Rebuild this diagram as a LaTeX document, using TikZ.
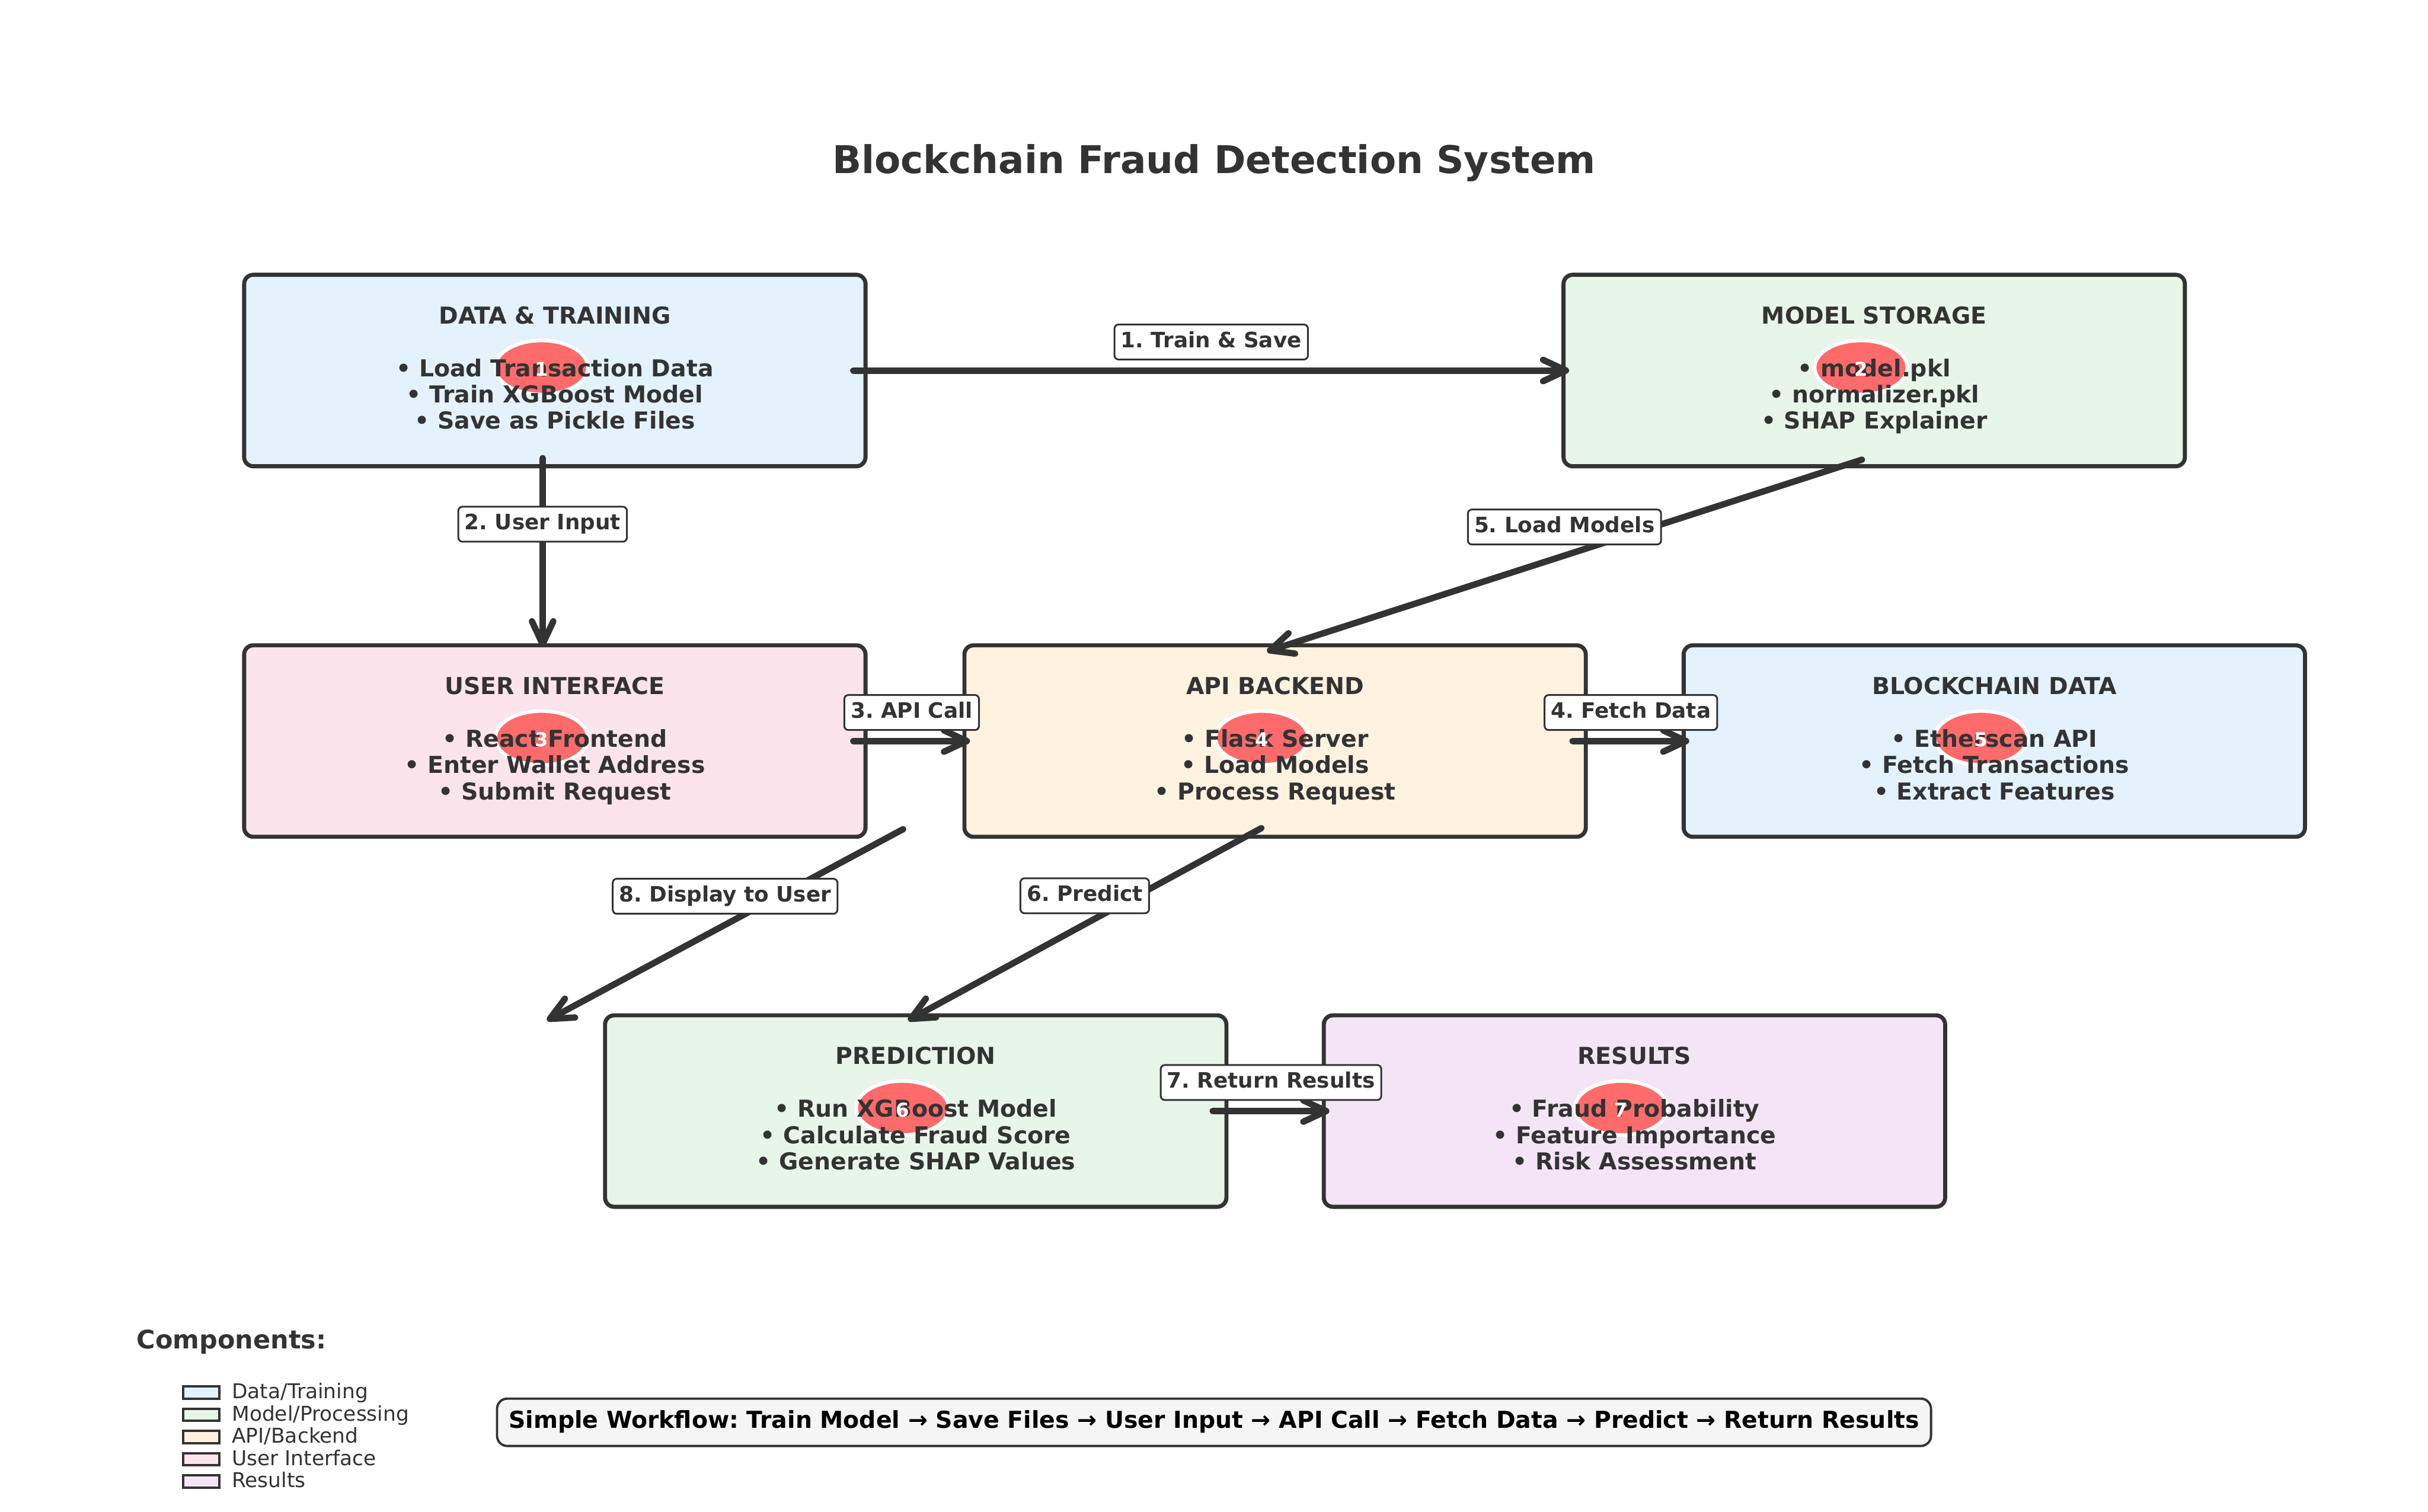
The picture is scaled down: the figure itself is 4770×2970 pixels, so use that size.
\documentclass[tikz,border=0pt]{standalone}
\usepackage{fontspec}
\setmainfont{DejaVu Sans}
\frenchspacing
\usetikzlibrary{arrows.meta,positioning,calc}
\definecolor{ink}{HTML}{333333}
\definecolor{cdata}{HTML}{E3F2FD}
\definecolor{cmodel}{HTML}{E8F5E9}
\definecolor{capi}{HTML}{FFF3E0}
\definecolor{cui}{HTML}{FCE4EC}
\definecolor{cres}{HTML}{F3E5F5}
\definecolor{badgered}{HTML}{FF6B6B}
\definecolor{flowgray}{HTML}{F5F5F5}

\begin{document}
\begin{tikzpicture}[
  x=0.01cm, y=-0.01cm,
  comp/.style={
    rectangle, rounded corners=0.18cm, draw=ink, line width=0.08cm,
    minimum width=12.2cm, minimum height=3.76cm, inner sep=0pt, outer sep=0pt
  },
  maintitle/.style={anchor=base, text=ink, font=\fontsize{21.34pt}{25pt}\selectfont\bfseries},
  comptitle/.style={anchor=base, text=ink, font=\fontsize{13.04pt}{15pt}\selectfont\bfseries},
  bulletline/.style={anchor=base, text=ink, font=\fontsize{13.04pt}{15pt}\selectfont\bfseries},
  badge/.style={fill=badgered, draw=white, line width=0.07cm},
  badgenum/.style={anchor=base, text=white, font=\fontsize{10.67pt}{12pt}\selectfont\bfseries},
  lbl/.style={
    rectangle, rounded corners=0.08cm, draw=ink, fill=white, line width=0.035cm,
    text=ink, font=\fontsize{11.86pt}{14pt}\selectfont\bfseries,
    inner xsep=0.125cm, inner ysep=0.135cm, text height=0.317cm, text depth=0.1cm,
    yshift=0.56cm
  },
  arr/.style={-{Straight Barb[length=0.45cm,width=0.42cm,round]}, line width=0.125cm, ink, line cap=round},
  swatch/.style={rectangle, draw=ink, line width=0.045cm, minimum width=0.71cm, minimum height=0.24cm, inner sep=0pt},
  legtitle/.style={anchor=base west, inner sep=0pt, text=ink, font=\fontsize{14.23pt}{17pt}\selectfont\bfseries},
  legtext/.style={anchor=base west, inner sep=0pt, text=ink, font=\fontsize{11.4pt}{13pt}\selectfont},
  flowbox/.style={
    rectangle, rounded corners=0.2cm, draw=ink, fill=flowgray, line width=0.045cm,
    text=black, font=\fontsize{13.04pt}{15pt}\selectfont\bfseries,
    inner xsep=0.23cm, inner ysep=0.235cm, text height=0.35cm, text depth=0.11cm
  }
]
  \fill[white] (0,0) rectangle (4770,2970);
  \useasboundingbox (0,0) rectangle (4770,2970);

  \node[maintitle] (ttl) at (2385,341) {Blockchain Fraud Detection System};

  % components
  \foreach \nm/\cx/\cy/\col/\num/\ttl/\items in {
    dt/1090/728/cdata/1/{DATA \& TRAINING}/{Load Transaction Data,Train XGBoost Model,Save as Pickle Files},
    ms/3682/728/cmodel/2/{MODEL STORAGE}/{model.pkl,normalizer.pkl,SHAP Explainer},
    ui/1090/1456/cui/3/{USER INTERFACE}/{React Frontend,Enter Wallet Address,Submit Request},
    api/2505/1456/capi/4/{API BACKEND}/{Flask Server,Load Models,Process Request},
    bc/3918/1456/cdata/5/{BLOCKCHAIN DATA}/{Etherscan API,Fetch Transactions,Extract Features},
    pred/1799/2183/cmodel/6/{PREDICTION}/{Run XGBoost Model,Calculate Fraud Score,Generate SHAP Values},
    res/3211/2183/cres/7/{RESULTS}/{Fraud Probability,Feature Importance,Risk Assessment}} {
    \node[comp, fill=\col] (\nm) at (\cx,\cy) {};
    \draw[badge] ($(\nm.center)+(-26,-6)$) ellipse [x radius=0.91cm, y radius=0.53cm];
    \node[comptitle] at ($(\nm.center)+(0,-92)$) {\ttl};
    \foreach \l [count=\i] in \items
      \node[bulletline] at ($(\nm.center)+(0,{12+51.5*(\i-1)})$) {• \l};
    \node[badgenum] at ($(\nm.center)+(-26,11)$) {\num};
  }

  % arrow ends
  \coordinate (dt-r)   at ($(dt.east)+(-24,0)$);
  \coordinate (ms-l)   at ($(ms.west)+(11,0)$);
  \coordinate (dt-b)   at ($(dt.south)+(-24,-16)$);
  \coordinate (ui-t)   at ($(ui.north)+(-24,4)$);
  \coordinate (ui-r)   at ($(ui.east)+(-24,0)$);
  \coordinate (api-l)  at ($(api.west)+(11,0)$);
  \coordinate (api-r)  at ($(api.east)+(-26,0)$);
  \coordinate (bc-l)   at ($(bc.west)+(11,0)$);
  \coordinate (ms-b)   at ($(ms.south)+(-24,-13)$);
  \coordinate (api-t)  at ($(api.north)+(-16,12)$);
  \coordinate (api-b)  at ($(api.south)+(-27,-17)$);
  \coordinate (pred-t) at ($(pred.north)+(-15,10)$);
  \coordinate (pred-r) at ($(pred.east)+(-27,0)$);
  \coordinate (res-l)  at ($(res.west)+(11,0)$);
  \coordinate (ui-br)  at ($(ui.south east)+(74,-15)$);
  \coordinate (disp)   at ($(pred.north west)+(-114,10)$);

  \foreach \a/\b/\lab in {
    dt-r/ms-l/{1. Train \& Save},
    dt-b/ui-t/{2. User Input},
    ui-r/api-l/{3. API Call},
    api-r/bc-l/{4. Fetch Data},
    ms-b/api-t/{5. Load Models},
    api-b/pred-t/{6. Predict},
    pred-r/res-l/{7. Return Results},
    ui-br/disp/{8. Display to User}} {
    \draw[arr] (\a) -- node[lbl] {\lab} (\b);
  }

  % legend
  \node[legtitle] (leg) at (268,2650) {Components:};
  \foreach \col/\name [count=\i] in {
    cdata/{Data/Training}, cmodel/{Model/Processing}, capi/{API/Backend},
    cui/{User Interface}, cres/{Results}} {
    \node[swatch, fill=\col] (sw\i) at (395.5,{2736+43.7*(\i-1)}) {};
    \node[legtext] (lt\i) at (455,{2748+43.7*(\i-1)}) {\name};
  }

  \node[flowbox] (wf) at (2385,2794.5) {Simple Workflow: Train Model → Save Files → User Input → API Call → Fetch Data → Predict → Return Results};
\end{tikzpicture}
\end{document}
